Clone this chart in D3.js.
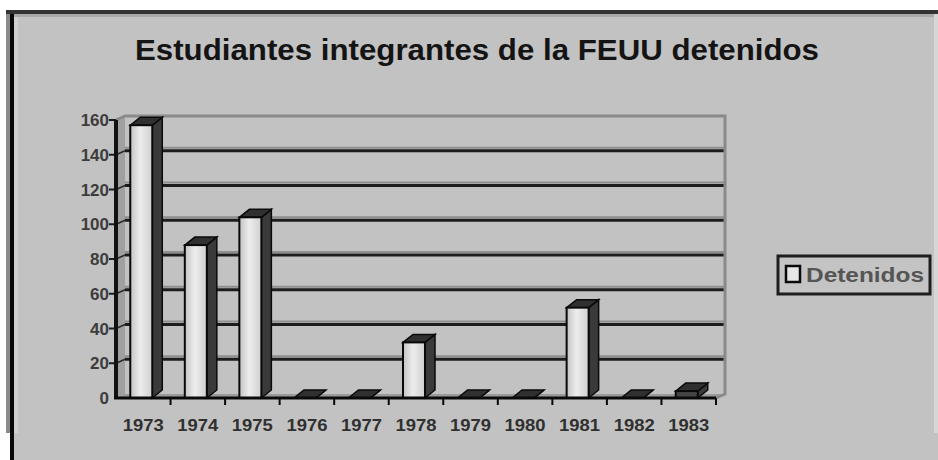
<!DOCTYPE html>
<html>
    <head>
        <title></title>
        <script src="https://d3js.org/d3.v7.min.js"></script>
    </head>

    <body style="margin:0; background:#ffffff;">
        <svg id="my_chart" width="938" height="460"></svg>
    </body>

    <script>
        // data
        var years = ["1973", "1974", "1975", "1976", "1977", "1978", "1979", "1980", "1981", "1982", "1983"]
        var detenidos = [157, 88, 104, 0, 0, 32, 0, 0, 52, 0, 4]
        var yTicks = [0, 20, 40, 60, 80, 100, 120, 140, 160]
        var title = "Estudiantes integrantes de la FEUU detenidos"
        var seriesName = "Detenidos"

        var svg = d3.select("#my_chart")

        // 3d depth of the walls and of the columns
        var wall = { dx: 9, dy: -4 }
        var col = { dx: 10, dy: -8, w: 22 }

        var x = d3.scaleBand()
        .domain(years)
        .range([116, 716])

        var y = d3.scaleLinear()
        .domain([0, 160])
        .range([398, 120])

        // chart area background and the window frame
        svg.append("rect")
        .attr("x", 6).attr("y", 10)
        .attr("width", 932).attr("height", 450)
        .attr("fill", "#c2c2c2")
        svg.append("rect")
        .attr("x", 0).attr("y", 433)
        .attr("width", 10).attr("height", 27)
        .attr("fill", "#ffffff")
        svg.append("rect")
        .attr("x", 6).attr("y", 10)
        .attr("width", 4).attr("height", 423)
        .attr("fill", "#8a8a8a")
        svg.append("rect")
        .attr("x", 10).attr("y", 10)
        .attr("width", 4).attr("height", 450)
        .attr("fill", "#080808")
        svg.append("rect")
        .attr("x", 14).attr("y", 14)
        .attr("width", 4).attr("height", 419)
        .attr("fill", "#cfcfcf")
        svg.append("rect")
        .attr("x", 6).attr("y", 10)
        .attr("width", 932).attr("height", 4)
        .attr("fill", "#333333")
        svg.append("rect")
        .attr("x", 14).attr("y", 14)
        .attr("width", 920).attr("height", 3)
        .attr("fill", "#a8a8a8")
        svg.append("rect")
        .attr("x", 934).attr("y", 14)
        .attr("width", 4).attr("height", 419)
        .attr("fill", "#d6d6d6")

        // title
        svg.append("text")
        .attr("x", 477)
        .attr("y", 60)
        .attr("text-anchor", "middle")
        .attr("textLength", 684)
        .attr("lengthAdjust", "spacingAndGlyphs")
        .style("font-family", "Liberation Sans, Arial, sans-serif")
        .style("font-weight", "bold")
        .style("font-size", "30px")
        .style("fill", "#141414")
        .text(title)

        var x0 = x.range()[0], x1 = x.range()[1]
        var yb = y(0), yt = y(160)

        // side wall on the left
        svg.append("path")
        .attr("d", "M" + x0 + "," + yb + "L" + (x0 + wall.dx) + "," + (yb + wall.dy) +
            "L" + (x0 + wall.dx) + "," + (yt + wall.dy) + "L" + x0 + "," + yt + "Z")
        .attr("fill", "#a0a0a0")

        // floor
        svg.append("path")
        .attr("d", "M" + x0 + "," + yb + "L" + x1 + "," + yb + "L" + (x1 + wall.dx) + "," + (yb + wall.dy) +
            "L" + (x0 + wall.dx) + "," + (yb + wall.dy) + "Z")
        .attr("fill", "#9a9a9a")

        // gridlines on the back wall
        var grid = svg.append("g")
        yTicks.slice(1, -1).forEach(function(t) {
            grid.append("line")
            .attr("x1", x0 + wall.dx).attr("x2", x1 + wall.dx)
            .attr("y1", y(t) + wall.dy - 3).attr("y2", y(t) + wall.dy - 3)
            .attr("stroke", "#8e8e8e").attr("stroke-width", 2)
            grid.append("line")
            .attr("x1", x0 + wall.dx).attr("x2", x1 + wall.dx)
            .attr("y1", y(t) + wall.dy).attr("y2", y(t) + wall.dy)
            .attr("stroke", "#1c1c1c").attr("stroke-width", 3)
            // slanted part across the side wall
            grid.append("line")
            .attr("x1", x0 - 7).attr("x2", x0)
            .attr("y1", y(t)).attr("y2", y(t))
            .attr("stroke", "#1c1c1c").attr("stroke-width", 2)
            grid.append("line")
            .attr("x1", x0).attr("x2", x0 + wall.dx)
            .attr("y1", y(t)).attr("y2", y(t) + wall.dy)
            .attr("stroke", "#2a2a2a").attr("stroke-width", 1.5)
        })

        // top and right edges of the back wall
        svg.append("path")
        .attr("d", "M" + x0 + "," + yt + "L" + (x0 + wall.dx) + "," + (yt + wall.dy) +
            "L" + (x1 + wall.dx) + "," + (yt + wall.dy) + "L" + (x1 + wall.dx) + "," + (yb + wall.dy) +
            "L" + x1 + "," + yb)
        .attr("fill", "none")
        .attr("stroke", "#8a8a8a")
        .attr("stroke-width", 3)
        svg.append("line")
        .attr("x1", x0 - 7).attr("x2", x0)
        .attr("y1", yt).attr("y2", yt)
        .attr("stroke", "#1c1c1c").attr("stroke-width", 2)

        // y axis line
        svg.append("line")
        .attr("x1", x0).attr("x2", x0)
        .attr("y1", yb).attr("y2", yt)
        .attr("stroke", "#111111")
        .attr("stroke-width", 4)

        // y tick labels
        svg.append("g")
        .selectAll("text")
        .data(yTicks)
        .enter()
        .append("text")
        .attr("x", 109)
        .attr("y", function(d) { return y(d) + 6 })
        .attr("text-anchor", "end")
        .style("font-family", "Liberation Sans, Arial, sans-serif")
        .style("font-weight", "bold")
        .style("font-size", "17px")
        .style("fill", "#3c3c3c")
        .text(function(d) { return d })

        // face shading of the columns
        var defs = svg.append("defs")
        var grad = defs.append("linearGradient")
        .attr("id", "face")
        .attr("x1", "0%").attr("x2", "100%")
        grad.append("stop").attr("offset", "0%").attr("stop-color", "#c4c4c4")
        grad.append("stop").attr("offset", "45%").attr("stop-color", "#ededed")
        grad.append("stop").attr("offset", "100%").attr("stop-color", "#cfcfcf")

        var data = years.map(function(d, i) { return { year: d, value: detenidos[i] } })

        var bars = svg.append("g")
        .selectAll("g")
        .data(data)
        .enter()
        .append("g")

        function left(d) {
            return x(d.year) + x.bandwidth() / 2 - 13
        }

        // right side of each column
        bars.append("path")
        .attr("d", function(d) {
            var l = left(d) + col.w, t = y(d.value)
            return "M" + l + "," + t + "L" + (l + col.dx) + "," + (t + col.dy) +
                "L" + (l + col.dx) + "," + (yb + col.dy) + "L" + l + "," + yb + "Z"
        })
        .attr("fill", "#3a3a3a")
        .attr("stroke", "#0a0a0a")
        .attr("stroke-width", 1.5)

        // top of each column
        bars.append("path")
        .attr("d", function(d) {
            var l = left(d), t = y(d.value)
            return "M" + l + "," + t + "L" + (l + col.dx) + "," + (t + col.dy) +
                "L" + (l + col.w + col.dx) + "," + (t + col.dy) + "L" + (l + col.w) + "," + t + "Z"
        })
        .attr("fill", "#303030")
        .attr("stroke", "#0a0a0a")
        .attr("stroke-width", 1.5)

        // front of each column
        bars.append("rect")
        .attr("x", left)
        .attr("y", function(d) { return y(d.value) })
        .attr("width", col.w)
        .attr("height", function(d) { return yb - y(d.value) })
        .attr("fill", function(d) { return d.value < 10 ? "#444444" : "url(#face)" })
        .attr("stroke", "#0a0a0a")
        .attr("stroke-width", 2)

        // x axis with ticks between the categories
        svg.append("line")
        .attr("x1", x0 - 2).attr("x2", x1)
        .attr("y1", yb).attr("y2", yb)
        .attr("stroke", "#0a0a0a")
        .attr("stroke-width", 3)
        svg.append("g")
        .selectAll("line")
        .data(years)
        .enter()
        .append("line")
        .attr("x1", function(d) { return x(d) + x.bandwidth() })
        .attr("x2", function(d) { return x(d) + x.bandwidth() })
        .attr("y1", yb).attr("y2", yb + 7)
        .attr("stroke", "#0a0a0a")
        .attr("stroke-width", 2)

        svg.append("g")
        .selectAll("text")
        .data(years)
        .enter()
        .append("text")
        .attr("x", function(d) { return x(d) + x.bandwidth() / 2 })
        .attr("y", 431)
        .attr("text-anchor", "middle")
        .attr("textLength", 41)
        .attr("lengthAdjust", "spacingAndGlyphs")
        .style("font-family", "Liberation Sans, Arial, sans-serif")
        .style("font-weight", "bold")
        .style("font-size", "17px")
        .style("fill", "#303030")
        .text(function(d) { return d })

        // legend
        var legend = svg.append("g")
        legend.append("rect")
        .attr("x", 778).attr("y", 256)
        .attr("width", 152).attr("height", 38)
        .attr("fill", "#c4c4c4")
        .attr("stroke", "#1e1e1e")
        .attr("stroke-width", 3)
        legend.append("rect")
        .attr("x", 786).attr("y", 266)
        .attr("width", 14).attr("height", 16)
        .attr("fill", "#e6e6e6")
        .attr("stroke", "#0a0a0a")
        .attr("stroke-width", 2.5)
        legend.append("text")
        .attr("x", 806)
        .attr("y", 282)
        .attr("textLength", 118)
        .attr("lengthAdjust", "spacingAndGlyphs")
        .style("font-family", "Liberation Sans, Arial, sans-serif")
        .style("font-weight", "bold")
        .style("font-size", "20px")
        .style("fill", "#555555")
        .text(seriesName)
    </script>
</html>
